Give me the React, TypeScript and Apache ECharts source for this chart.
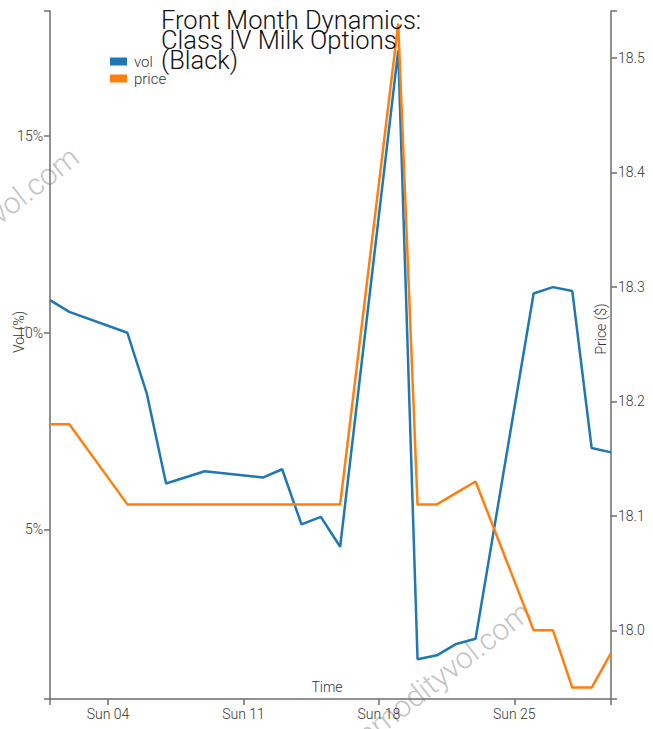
import React, { useEffect, useRef } from "react";
import * as echarts from "echarts";

// Data: Class IV Milk front month, January 2015 (weekdays)
const days = [1, 2, 5, 6, 7, 9, 12, 13, 14, 15, 16, 19, 20, 21, 22, 23, 26, 27, 28, 29, 30];
const volValues = [10.83, 10.53, 10.0, 8.46, 6.17, 6.48, 6.32, 6.53, 5.13, 5.32, 4.56, 17.18, 1.7, 1.8, 2.09, 2.22, 11.0, 11.16, 11.06, 7.07, 6.96];
const priceValues = [18.18, 18.18, 18.11, 18.11, 18.11, 18.11, 18.11, 18.11, 18.11, 18.11, 18.11, 18.53, 18.11, 18.11, 18.12, 18.13, 18.0, 18.0, 17.95, 17.95, 17.98];

const dayTicks = [4, 11, 18, 25];
const volTicks = [5, 10, 15];
const priceTicks = [18.0, 18.1, 18.2, 18.3, 18.4, 18.5];

const volRange = [0.69, 18.18];
const priceRange = [17.94, 18.541];
const dayRange = [1, 30];

const YEAR = 2015;
const MONTH = 0;
const ts = (d: number) => Date.UTC(YEAR, MONTH, d);
const WEEKDAYS = ["Sun", "Mon", "Tue", "Wed", "Thu", "Fri", "Sat"];

const FONT = "Roboto";

export default function App() {
  const ref = useRef<HTMLDivElement>(null);
  useEffect(() => {
    if (!ref.current) return;
    const chart = echarts.init(ref.current, undefined, { renderer: "svg" });
    const axisLine = { show: true, lineStyle: { color: "#6e6e6e", width: 1.5 } };
    const axisTickStyle = { lineStyle: { color: "#6e6e6e", width: 1.5 }, length: 6, inside: false };
    const labelStyle = { color: "#333", fontSize: 14, fontFamily: FONT, fontWeight: 300 as any };
    const wmStyle = {
      text: "commodityvol.com",
      fontSize: 30,
      fontFamily: FONT,
      fontWeight: 300,
      fill: "#c4c4c4",
      align: "right",
      verticalAlign: "bottom",
    };
    const rot = (38 * Math.PI) / 180;
    chart.setOption({
      animation: false,
      backgroundColor: "#fff",
      grid: { left: 50, right: 42, top: 11, bottom: 30, containLabel: false },
      legend: {
        data: ["vol", "price"],
        orient: "vertical",
        left: 110,
        top: 54,
        padding: 0,
        itemGap: 2,
        itemWidth: 17,
        itemHeight: 8,
        icon: "rect",
        textStyle: { color: "#333", fontSize: 15, fontFamily: FONT, fontWeight: 300, padding: [0, 0, 0, 2] },
      },
      xAxis: {
        type: "value",
        min: ts(dayRange[0]),
        max: ts(dayRange[1]),
        axisLine,
        splitLine: { show: false },
        axisTick: { ...axisTickStyle, customValues: [ts(dayRange[0]), ...dayTicks.map(ts), ts(dayRange[1])] },
        axisLabel: {
          ...labelStyle,
          margin: 8,
          customValues: dayTicks.map(ts),
          formatter: (v: number) => {
            const d = new Date(v);
            return `${WEEKDAYS[d.getUTCDay()]} ${String(d.getUTCDate()).padStart(2, "0")}`;
          },
        },
      },
      yAxis: [
        {
          type: "value",
          position: "left",
          min: volRange[0],
          max: volRange[1],
          axisLine,
          splitLine: { show: false },
          axisTick: { ...axisTickStyle, customValues: [volRange[0], ...volTicks, volRange[1]] },
          axisLabel: { ...labelStyle, margin: 7, customValues: volTicks, formatter: (v: number) => `${v}%` },
        },
        {
          type: "value",
          position: "right",
          min: priceRange[0],
          max: priceRange[1],
          axisLine,
          splitLine: { show: false },
          axisTick: { ...axisTickStyle, customValues: [priceRange[0], ...priceTicks, priceRange[1]] },
          axisLabel: { ...labelStyle, margin: 7, customValues: priceTicks, formatter: (v: number) => v.toFixed(1) },
        },
      ],
      series: [
        {
          name: "vol",
          type: "line",
          yAxisIndex: 0,
          data: days.map((d, i) => [ts(d), volValues[i]]),
          showSymbol: false,
          symbol: "none",
          color: "#1f77b4",
          lineStyle: { color: "#1f77b4", width: 2.5 },
          z: 2,
        },
        {
          name: "price",
          type: "line",
          yAxisIndex: 1,
          data: days.map((d, i) => [ts(d), priceValues[i]]),
          showSymbol: false,
          symbol: "none",
          color: "#ff7f0e",
          lineStyle: { color: "#ff7f0e", width: 2.5 },
          z: 3,
        },
      ],
      graphic: [
        {
          type: "text",
          left: 161,
          top: 7,
          z: 10,
          style: {
            text: "Front Month Dynamics:\nClass IV Milk Options\n(Black)",
            fontSize: 25.5,
            lineHeight: 20,
            fontFamily: FONT,
            fontWeight: 300,
            fill: "#111",
          },
        },
        {
          type: "text",
          x: 19,
          y: 332,
          rotation: Math.PI / 2,
          style: { text: "Vol (%)", fontSize: 14, fontFamily: FONT, fontWeight: 300, fill: "#333", align: "center", verticalAlign: "middle" },
        },
        {
          type: "text",
          x: 601,
          y: 329,
          rotation: Math.PI / 2,
          style: { text: "Price ($)", fontSize: 14, fontFamily: FONT, fontWeight: 300, fill: "#333", align: "center", verticalAlign: "middle" },
        },
        {
          type: "text",
          x: 327,
          y: 687,
          style: { text: "Time", fontSize: 14, fontFamily: FONT, fontWeight: 300, fill: "#333", align: "center", verticalAlign: "middle" },
        },
        { type: "text", x: 84, y: 165, rotation: rot, z: 0, style: wmStyle },
        { type: "text", x: 536, y: 620, rotation: rot, z: 0, style: wmStyle },
      ],
    });
    return () => chart.dispose();
  }, []);
  return (
    <div
      ref={ref}
      style={{ position: "fixed", left: 0, top: 0, width: 653, height: 729, background: "#fff" }}
    />
  );
}
